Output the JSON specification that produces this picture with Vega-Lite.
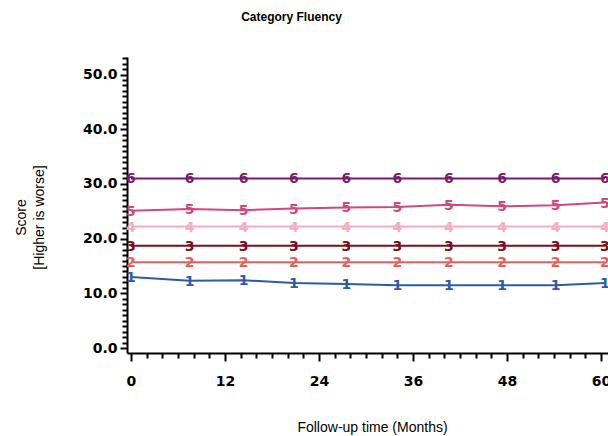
{
  "$schema": "https://vega.github.io/schema/vega-lite/v6.json",
  "width": 481,
  "height": 296,
  "autosize": {"type": "none"},
  "padding": {"left": 127, "top": 57, "right": 0, "bottom": 83},
  "background": "white",
  "title": {
    "text": "Category Fluency",
    "font": "Liberation Sans",
    "fontSize": 12,
    "fontWeight": "bold",
    "color": "black",
    "anchor": "middle",
    "frame": "group",
    "dx": -76,
    "baseline": "alphabetic",
    "offset": 18
  },
  "config": {
    "view": {"stroke": null},
    "axis": {"grid": false}
  },
  "data": {
    "values": [
      {"month": 0, "group": "1", "score": 13.0},
      {"month": 7.5, "group": "1", "score": 12.3},
      {"month": 14.4, "group": "1", "score": 12.4},
      {"month": 20.8, "group": "1", "score": 11.9},
      {"month": 27.5, "group": "1", "score": 11.7},
      {"month": 34, "group": "1", "score": 11.5},
      {"month": 40.6, "group": "1", "score": 11.5},
      {"month": 47.4, "group": "1", "score": 11.5},
      {"month": 54.2, "group": "1", "score": 11.5},
      {"month": 60.5, "group": "1", "score": 11.9},
      {"month": 0, "group": "2", "score": 15.7},
      {"month": 7.5, "group": "2", "score": 15.7},
      {"month": 14.4, "group": "2", "score": 15.7},
      {"month": 20.8, "group": "2", "score": 15.7},
      {"month": 27.5, "group": "2", "score": 15.7},
      {"month": 34, "group": "2", "score": 15.7},
      {"month": 40.6, "group": "2", "score": 15.7},
      {"month": 47.4, "group": "2", "score": 15.7},
      {"month": 54.2, "group": "2", "score": 15.7},
      {"month": 60.5, "group": "2", "score": 15.7},
      {"month": 0, "group": "3", "score": 18.7},
      {"month": 7.5, "group": "3", "score": 18.7},
      {"month": 14.4, "group": "3", "score": 18.7},
      {"month": 20.8, "group": "3", "score": 18.7},
      {"month": 27.5, "group": "3", "score": 18.7},
      {"month": 34, "group": "3", "score": 18.7},
      {"month": 40.6, "group": "3", "score": 18.7},
      {"month": 47.4, "group": "3", "score": 18.7},
      {"month": 54.2, "group": "3", "score": 18.7},
      {"month": 60.5, "group": "3", "score": 18.7},
      {"month": 0, "group": "4", "score": 22.2},
      {"month": 7.5, "group": "4", "score": 22.2},
      {"month": 14.4, "group": "4", "score": 22.2},
      {"month": 20.8, "group": "4", "score": 22.2},
      {"month": 27.5, "group": "4", "score": 22.2},
      {"month": 34, "group": "4", "score": 22.2},
      {"month": 40.6, "group": "4", "score": 22.2},
      {"month": 47.4, "group": "4", "score": 22.2},
      {"month": 54.2, "group": "4", "score": 22.2},
      {"month": 60.5, "group": "4", "score": 22.2},
      {"month": 0, "group": "5", "score": 25.1},
      {"month": 7.5, "group": "5", "score": 25.4},
      {"month": 14.4, "group": "5", "score": 25.2},
      {"month": 20.8, "group": "5", "score": 25.5},
      {"month": 27.5, "group": "5", "score": 25.7},
      {"month": 34, "group": "5", "score": 25.8},
      {"month": 40.6, "group": "5", "score": 26.2},
      {"month": 47.4, "group": "5", "score": 25.9},
      {"month": 54.2, "group": "5", "score": 26.1},
      {"month": 60.5, "group": "5", "score": 26.6},
      {"month": 0, "group": "6", "score": 31.0},
      {"month": 7.5, "group": "6", "score": 31.0},
      {"month": 14.4, "group": "6", "score": 31.0},
      {"month": 20.8, "group": "6", "score": 31.0},
      {"month": 27.5, "group": "6", "score": 31.0},
      {"month": 34, "group": "6", "score": 31.0},
      {"month": 40.6, "group": "6", "score": 31.0},
      {"month": 47.4, "group": "6", "score": 31.0},
      {"month": 54.2, "group": "6", "score": 31.0},
      {"month": 60.5, "group": "6", "score": 31.0}
    ]
  },
  "encoding": {
    "x": {
      "field": "month",
      "type": "quantitative",
      "scale": {"domain": [-0.5, 60.9], "nice": false, "zero": false},
      "axis": {
        "title": "Follow-up time (Months)",
        "titleFont": "Liberation Sans",
        "titleFontSize": 14,
        "titleFontWeight": "normal",
        "titleColor": "black",
        "titleX": 245,
        "titleY": 74,
        "titleBaseline": "middle",
        "titleAlign": "center",
        "values": [0, 2, 4, 6, 8, 10, 12, 14, 16, 18, 20, 22, 24, 26, 28, 30, 32, 34, 36, 38, 40, 42, 44, 46, 48, 50, 52, 54, 56, 58, 60],
        "labelExpr": "datum.value % 12 === 0 ? datum.value : ''",
        "labelOverlap": false,
        "labelFont": "DejaVu Sans",
        "labelFontSize": 14,
        "labelFontWeight": "bold",
        "labelColor": "black",
        "labelPadding": 13,
        "tickSize": {"condition": {"test": "datum.value % 12 === 0", "value": 8}, "value": 5},
        "tickWidth": 2,
        "tickColor": "black",
        "domainColor": "black",
        "domainWidth": 2,
        "labelFlush": false
      }
    },
    "y": {
      "field": "score",
      "type": "quantitative",
      "scale": {"domain": [-0.9, 53.2], "nice": false, "zero": false},
      "axis": {
        "title": ["Score", "[Higher is worse]"],
        "titleFont": "Liberation Sans",
        "titleFontSize": 14,
        "titleFontWeight": "normal",
        "titleColor": "black",
        "titleLineHeight": 18,
        "titleX": -102,
        "titleY": 160,
        "titleAngle": -90,
        "titleAlign": "center",
        "titleBaseline": "alphabetic",
        "values": [0, 1, 2, 3, 4, 5, 6, 7, 8, 9, 10, 11, 12, 13, 14, 15, 16, 17, 18, 19, 20, 21, 22, 23, 24, 25, 26, 27, 28, 29, 30, 31, 32, 33, 34, 35, 36, 37, 38, 39, 40, 41, 42, 43, 44, 45, 46, 47, 48, 49, 50, 51, 52, 53],
        "labelExpr": "datum.value % 10 === 0 ? format(datum.value, '.1f') : ''",
        "labelOverlap": false,
        "labelFont": "DejaVu Sans",
        "labelFontSize": 14,
        "labelFontWeight": "bold",
        "labelColor": "black",
        "labelPadding": 3,
        "tickSize": {"condition": {"test": "datum.value % 10 === 0", "value": 7}, "value": 5},
        "tickWidth": 2,
        "tickColor": "black",
        "domainColor": "black",
        "domainWidth": 2,
        "labelFlush": false
      }
    },
    "color": {
      "field": "group",
      "type": "nominal",
      "scale": {
        "domain": ["1", "2", "3", "4", "5", "6"],
        "range": ["#2c5ba8", "#ec5c58", "#7c0e1c", "#f4aec0", "#d4467e", "#7a1a70"]
      },
      "legend": null
    }
  },
  "layer": [
    {
      "mark": {"type": "line", "strokeWidth": 2, "clip": true}
    },
    {
      "mark": {
        "type": "text",
        "font": "DejaVu Sans",
        "fontSize": 14,
        "fontWeight": "bold",
        "baseline": "middle",
        "align": "center",
        "dy": 1
      },
      "encoding": {
        "text": {"field": "group", "type": "nominal"}
      }
    }
  ]
}
